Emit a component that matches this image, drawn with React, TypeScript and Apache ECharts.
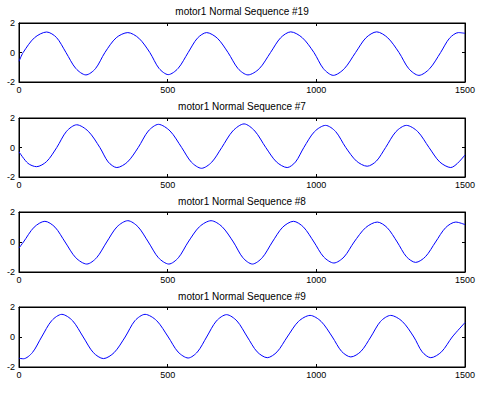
import React, { useEffect, useRef } from "react";
import * as echarts from "echarts";

const titles = [
  "motor1 Normal Sequence #19",
  "motor1 Normal Sequence #7",
  "motor1 Normal Sequence #8",
  "motor1 Normal Sequence #9",
];

const seq19X = [0, 14, 52, 93, 126, 158, 191, 225, 257, 289, 327, 366, 403, 440, 471, 502, 535, 569, 600, 631, 667, 703, 737, 770, 808, 846, 880, 914, 953, 992, 1024, 1057, 1094, 1132, 1167, 1203, 1240, 1278, 1311, 1345, 1381, 1418, 1448, 1478, 1500];
const seq19Y = [-0.6, 0, 1.0, 1.39, 1.02, 0, -1.08, -1.52, -1.1, 0, 1.0, 1.35, 0.97, 0, -1.08, -1.5, -1.08, 0, 0.97, 1.35, 0.97, 0, -1.1, -1.52, -1.1, 0, 1.0, 1.4, 1.0, 0, -1.1, -1.55, -1.1, 0, 1.0, 1.4, 1.0, 0, -1.1, -1.55, -1.1, 0, 0.97, 1.35, 1.3];

const seq7X = [0, 30, 59, 93, 127, 160, 194, 233, 272, 300, 329, 365, 401, 435, 469, 508, 547, 580, 614, 648, 682, 719, 757, 793, 830, 866, 902, 930, 958, 994, 1031, 1065, 1099, 1135, 1171, 1202, 1233, 1268, 1303, 1341, 1379, 1415, 1452, 1500];
const seq7Y = [-0.29, -1.07, -1.3, -0.95, 0, 1.1, 1.54, 1.1, 0, -0.98, -1.36, -0.98, 0, 1.12, 1.57, 1.12, 0, -1.0, -1.41, -1.0, 0, 1.12, 1.6, 1.12, 0, -0.98, -1.36, -0.98, 0, 1.08, 1.5, 1.08, 0, -0.92, -1.27, -0.92, 0, 1.08, 1.5, 1.08, 0, -0.98, -1.36, -0.5];

const seq8X = [0, 15, 51, 87, 121, 155, 191, 228, 261, 295, 330, 366, 400, 435, 469, 504, 536, 569, 607, 646, 683, 721, 753, 785, 818, 852, 887, 923, 957, 992, 1025, 1059, 1093, 1127, 1166, 1205, 1238, 1272, 1303, 1334, 1367, 1401, 1435, 1469, 1500];
const seq8Y = [-0.4, 0, 0.99, 1.38, 0.99, 0, -1.05, -1.47, -1.05, 0, 1.02, 1.42, 1.02, 0, -1.05, -1.47, -1.05, 0, 1.02, 1.42, 1.02, 0, -1.05, -1.47, -1.05, 0, 0.99, 1.38, 0.99, 0, -1.0, -1.4, -1.0, 0, 0.96, 1.33, 0.96, 0, -0.98, -1.36, -0.98, 0, 0.96, 1.33, 1.16];

const seq9X = [0, 15, 45, 76, 110, 144, 180, 216, 250, 284, 320, 357, 390, 424, 463, 502, 535, 569, 600, 631, 664, 698, 733, 768, 801, 835, 868, 902, 940, 979, 1016, 1054, 1085, 1116, 1150, 1183, 1216, 1250, 1289, 1328, 1356, 1385, 1421, 1457, 1500];
const seq9Y = [-1.42, -1.45, -1.04, 0, 1.09, 1.51, 1.09, 0, -1.04, -1.44, -1.04, 0, 1.09, 1.51, 1.09, 0, -1.0, -1.4, -1.0, 0, 1.07, 1.49, 1.07, 0, -0.99, -1.38, -0.99, 0, 1.04, 1.44, 1.04, 0, -0.96, -1.33, -0.96, 0, 1.04, 1.44, 1.04, 0, -0.99, -1.38, -0.99, 0, 0.96];

const seriesX = [seq19X, seq7X, seq8X, seq9X];
const seriesY = [seq19Y, seq7Y, seq8Y, seq9Y];

const gridTops = [23, 118, 212, 307];
const gridHeights = [59, 59, 60, 60];
const titleTops = [6, 101, 196, 291];

const FONT = "Liberation Sans";

export default function App() {
  const ref = useRef<HTMLDivElement>(null);
  useEffect(() => {
    if (!ref.current) return;
    const chart = echarts.init(ref.current, undefined, { renderer: "svg" });
    const grids: any[] = [];
    const xAxes: any[] = [];
    const yAxes: any[] = [];
    const series: any[] = [];
    const title: any[] = [];
    for (let i = 0; i < 4; i++) {
      grids.push({
        left: 19,
        width: 446,
        top: gridTops[i],
        height: gridHeights[i],
        show: true,
        borderColor: "#000",
        borderWidth: 1,
        backgroundColor: "#fff",
      });
      title.push({
        text: titles[i],
        left: 242,
        top: titleTops[i],
        padding: 0,
        textAlign: "center",
        textStyle: { fontFamily: FONT, fontSize: 10, fontWeight: "normal", color: "#000" },
      });
      const xBase = {
        type: "value",
        min: 0,
        max: 1500,
        interval: 500,
        gridIndex: i,
        splitLine: { show: false },
        axisLine: { show: true, onZero: false, lineStyle: { color: "#000", width: 1 } },
        axisTick: { show: true, inside: true, length: 3, lineStyle: { color: "#000" } },
      };
      xAxes.push({
        ...xBase,
        position: "bottom",
        axisLabel: {
          show: true,
          fontFamily: FONT,
          fontSize: 9,
          color: "#000",
          margin: 3,
          formatter: (v: number) => String(v),
        },
      });
      xAxes.push({ ...xBase, position: "top", axisLabel: { show: false } });
      const yBase = {
        type: "value",
        min: -2,
        max: 2,
        interval: 2,
        gridIndex: i,
        splitLine: { show: false },
        axisLine: { show: true, onZero: false, lineStyle: { color: "#000", width: 1 } },
        axisTick: { show: true, inside: true, length: 3, lineStyle: { color: "#000" } },
      };
      yAxes.push({
        ...yBase,
        position: "left",
        axisLabel: {
          show: true,
          fontFamily: FONT,
          fontSize: 9,
          color: "#000",
          margin: 4,
          formatter: (v: number) => String(v),
        },
      });
      yAxes.push({ ...yBase, position: "right", axisLabel: { show: false } });
      series.push({
        type: "line",
        xAxisIndex: i * 2,
        yAxisIndex: i * 2,
        data: seriesX[i].map((x, k) => [x, seriesY[i][k]]),
        showSymbol: false,
        smooth: 0.3,
        lineStyle: { color: "#0000ff", width: 1 },
      });
    }
    chart.setOption({
      animation: false,
      backgroundColor: "#fff",
      title,
      grid: grids,
      xAxis: xAxes,
      yAxis: yAxes,
      series,
    });
    return () => chart.dispose();
  }, []);
  return (
    <div
      ref={ref}
      style={{ position: "fixed", left: 0, top: 0, width: 488, height: 397 }}
    />
  );
}
